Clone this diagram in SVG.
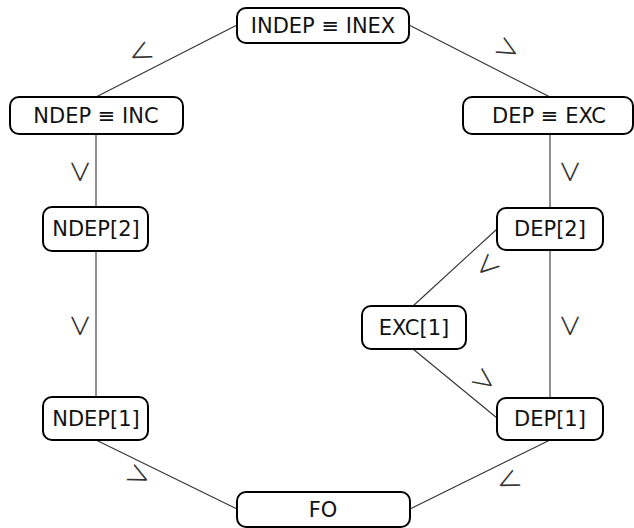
<svg xmlns="http://www.w3.org/2000/svg" width="634" height="528" viewBox="0 0 634 528">
  <style>
    .box { fill: #ffffff; stroke: #000000; stroke-width: 2; }
    .lbl { font-family: "DejaVu Sans", sans-serif; font-size: 21px; fill: #111111; text-anchor: middle; dominant-baseline: central; }
    .edge { stroke: #333333; stroke-width: 1.1; fill: none; }
    .rel { font-family: Inter, "DejaVu Sans", sans-serif; font-weight: 250; font-size: 44px; fill: #333333; text-anchor: middle; dominant-baseline: central; }
  </style>
  <rect width="634" height="528" fill="#ffffff"/>

  <!-- connectors -->
  <g id="connectors">
    <line class="edge" x1="237" y1="25" x2="96" y2="97"/>
    <line class="edge" x1="409" y1="25" x2="550" y2="97"/>
    <line class="edge" x1="96" y1="134" x2="96" y2="207"/>
    <line class="edge" x1="96" y1="251" x2="96" y2="397"/>
    <line class="edge" x1="96" y1="440" x2="237" y2="509"/>
    <line class="edge" x1="550" y1="134" x2="550" y2="208"/>
    <line class="edge" x1="550" y1="250" x2="550" y2="398"/>
    <line class="edge" x1="497" y1="229" x2="413" y2="306"/>
    <line class="edge" x1="413" y1="349" x2="497" y2="418"/>
    <line class="edge" x1="550" y1="440" x2="410" y2="509"/>

    <!-- order relations along the edges -->
    <text class="rel" transform="translate(140,51) rotate(-27) scale(1,0.78)">&lt;</text>
    <text class="rel" transform="translate(506,51) rotate(209) scale(1,0.78)">&lt;</text>
    <text class="rel" transform="translate(78,171) rotate(-90) scale(1,0.78)">&lt;</text>
    <text class="rel" transform="translate(78,325) rotate(-90) scale(1,0.78)">&lt;</text>
    <text class="rel" transform="translate(568,171) rotate(-90) scale(1,0.78)">&lt;</text>
    <text class="rel" transform="translate(568,325) rotate(-90) scale(1,0.78)">&lt;</text>
    <text class="rel" transform="translate(486,264) rotate(-43) scale(1,0.78)">&lt;</text>
    <text class="rel" transform="translate(482,382) rotate(216) scale(1,0.78)">&lt;</text>
    <text class="rel" transform="translate(137,478) rotate(206) scale(1,0.78)">&lt;</text>
    <text class="rel" transform="translate(508,479) rotate(-26) scale(1,0.78)">&lt;</text>
  </g>

  <!-- nodes -->
  <g id="indep-inex">
    <rect class="box" x="237" y="8" width="172" height="35" rx="9"/>
    <text class="lbl" x="323" y="26">INDEP ≡ INEX</text>
  </g>
  <g id="ndep-inc">
    <rect class="box" x="10" y="97" width="173" height="37" rx="9"/>
    <text class="lbl" x="96" y="116">NDEP ≡ INC</text>
  </g>
  <g id="dep-exc">
    <rect class="box" x="463" y="97" width="170" height="37" rx="9"/>
    <text class="lbl" x="549" y="116">DEP ≡ EXC</text>
  </g>
  <g id="ndep2">
    <rect class="box" x="43" y="207" width="105" height="44" rx="9"/>
    <text class="lbl" x="96" y="229">NDEP[2]</text>
  </g>
  <g id="dep2">
    <rect class="box" x="497" y="208" width="106" height="42" rx="9"/>
    <text class="lbl" x="550" y="229">DEP[2]</text>
  </g>
  <g id="exc1">
    <rect class="box" x="362" y="306" width="104" height="43" rx="9"/>
    <text class="lbl" x="414" y="328">EXC[1]</text>
  </g>
  <g id="ndep1">
    <rect class="box" x="43" y="397" width="105" height="43" rx="9"/>
    <text class="lbl" x="96" y="419">NDEP[1]</text>
  </g>
  <g id="dep1">
    <rect class="box" x="497" y="398" width="106" height="42" rx="9"/>
    <text class="lbl" x="550" y="419">DEP[1]</text>
  </g>
  <g id="fo">
    <rect class="box" x="237" y="492" width="173" height="35" rx="9"/>
    <text class="lbl" x="323" y="510">FO</text>
  </g>
</svg>
